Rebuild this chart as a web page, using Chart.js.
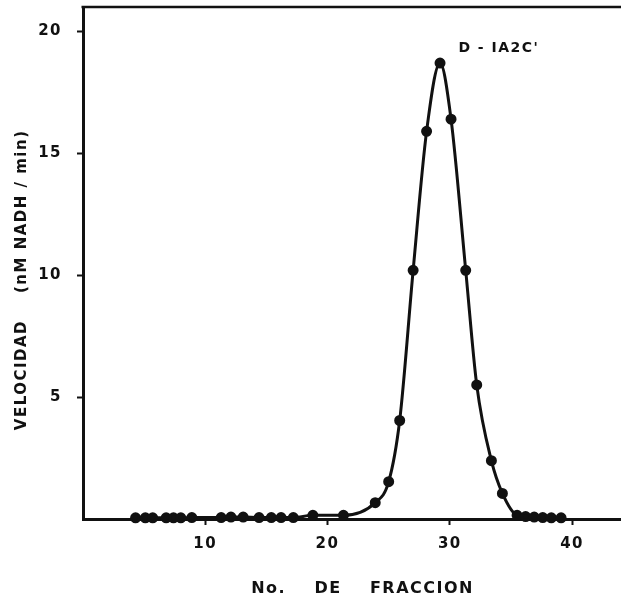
<!DOCTYPE html>
<html>
<head>
<meta charset="utf-8">
<script src="https://cdn.jsdelivr.net/npm/chart.js@4.4.1/dist/chart.umd.min.js"></script>
<style>
  html, body { margin: 0; padding: 0; background: #fff; overflow: hidden; }
  #wrap { width: 621px; height: 605px; }
</style>
</head>
<body>
<div id="wrap"><canvas id="grafico"></canvas></div>
<script>
// No. de fraccion (eje x)
const fracciones = [4.3, 5.1, 5.7, 6.8, 7.4, 8.0, 8.9, 11.3, 12.1, 13.1, 14.4, 15.4, 16.2, 17.2, 18.8, 21.3,
  23.9, 25.0, 25.9, 27.0, 28.1, 29.2, 30.1, 31.3, 32.2, 33.4, 34.3,
  35.5, 36.2, 36.9, 37.6, 38.3, 39.1];
// Velocidad (nM NADH/min)
const velocidad = [0.05, 0.05, 0.05, 0.05, 0.05, 0.05, 0.06, 0.06, 0.08, 0.08, 0.06, 0.06, 0.06, 0.06, 0.15, 0.15,
  0.67, 1.53, 4.04, 10.2, 15.9, 18.7, 16.4, 10.2, 5.5, 2.39, 1.05,
  0.15, 0.1, 0.08, 0.06, 0.05, 0.05];
const ticksX = [10, 20, 30, 40];
const ticksY = [5, 10, 15, 20];
const etiqueta = "D - IA2C'";

const tinta = '#111';
const fuente = "'DejaVu Sans', sans-serif";

// marco superior y etiqueta de la muestra
const extras = {
  id: 'extras',
  beforeDraw(chart) {
    chart.ctx.letterSpacing = '1.5px';
  },
  afterDraw(chart) {
    const { ctx, chartArea, scales } = chart;
    ctx.save();
    ctx.strokeStyle = tinta;
    ctx.lineWidth = 2.5;
    ctx.beginPath();
    ctx.moveTo(chartArea.left - 1.5, chartArea.top);
    ctx.lineTo(chartArea.right, chartArea.top);
    ctx.stroke();
    ctx.fillStyle = tinta;
    ctx.font = "bold 14px " + fuente;
    ctx.textBaseline = 'middle';
    ctx.fillText(etiqueta, scales.x.getPixelForValue(30.7), scales.y.getPixelForValue(19.3));
    ctx.restore();
  }
};

// sin relleno automatico alrededor de los ejes
function sinRelleno(scale) {
  scale.paddingTop = 0;
  scale.paddingBottom = 0;
  scale.paddingLeft = 0;
  scale.paddingRight = 0;
}

const ctx = document.getElementById('grafico').getContext('2d');
new Chart(ctx, {
  type: 'line',
  data: {
    datasets: [{
      data: fracciones.map((f, i) => ({ x: f, y: velocidad[i] })),
      borderColor: tinta,
      backgroundColor: tinta,
      borderWidth: 3,
      pointRadius: 4,
      pointHoverRadius: 4,
      cubicInterpolationMode: 'monotone',
      fill: false,
      clip: false
    }]
  },
  options: {
    responsive: true,
    maintainAspectRatio: false,
    animation: false,
    layout: { autoPadding: false, padding: { top: 7, right: 0, left: 0, bottom: 0 } },
    plugins: {
      legend: { display: false },
      tooltip: { enabled: false }
    },
    scales: {
      x: {
        type: 'linear',
        min: 0,
        max: 44,
        afterFit(scale) { scale.height = 86; sinRelleno(scale); },
        afterBuildTicks(scale) { scale.ticks = ticksX.map(v => ({ value: v })); },
        grid: {
          drawOnChartArea: false,
          drawTicks: true,
          tickLength: 6,
          tickWidth: 2,
          tickColor: tinta
        },
        border: { display: true, color: tinta, width: 3 },
        ticks: {
          color: tinta,
          padding: 10,
          maxRotation: 0,
          font: { family: fuente, size: 15, weight: 'bold' }
        },
        title: {
          display: true,
          text: '   No.    DE    FRACCION',
          color: tinta,
          padding: { top: 0, bottom: 7 },
          font: { family: fuente, size: 16, weight: 'bold' }
        }
      },
      y: {
        min: 0,
        max: 21,
        afterFit(scale) { scale.width = 83; sinRelleno(scale); },
        afterBuildTicks(scale) { scale.ticks = ticksY.map(v => ({ value: v })); },
        grid: {
          drawOnChartArea: false,
          drawTicks: true,
          tickLength: 6,
          tickWidth: 2,
          tickColor: tinta
        },
        border: { display: true, color: tinta, width: 3 },
        ticks: {
          color: tinta,
          padding: 15,
          font: { family: fuente, size: 15, weight: 'bold' }
        },
        title: {
          display: true,
          text: 'VELOCIDAD    (nM NADH / min)     ',
          color: tinta,
          padding: { top: 13, bottom: 0 },
          font: { family: fuente, size: 15, weight: 'bold' }
        }
      }
    }
  },
  plugins: [extras]
});
</script>
</body>
</html>
